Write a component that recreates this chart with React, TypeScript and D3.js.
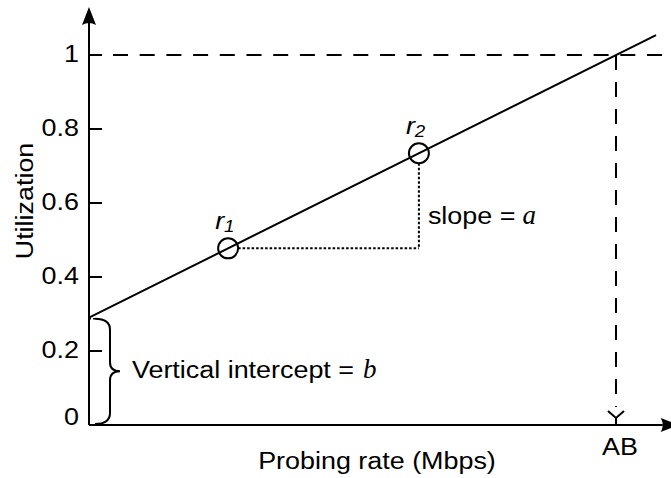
import { useEffect, useRef } from 'react';
import * as d3 from 'd3';

// chart values
const yTicks = [0, 0.2, 0.4, 0.6, 0.8, 1];
const yTickLabels = ['0', '0.2', '0.4', '0.6', '0.8', '1'];
const intercept = 0.29; // b
const slope = 0.0071; // a, utilization per rate unit
const lineRates = [0, 107.6];
const probeRates = [26.4, 62.6];
const probeNames = ['1', '2'];
const availBw = 100; // AB
const xMax = 110;
const yMax = 1.13;

const W = 671;
const H = 478;
const SANS = '"Liberation Sans", Arial, sans-serif';
const SERIF = '"Liberation Serif", "Times New Roman", serif';
const FONT = 23;
const STRETCH = 1.17; // lettering in the figure is drawn a bit wide

const util = (r: number) => intercept + slope * r;

const App = () => {
    const ref = useRef<SVGSVGElement>(null);

    useEffect(() => {
        const svg = d3.select(ref.current);
        svg.selectAll('*').remove();

        // stretched sans text at (tx, ty); returns its drawn width
        const label = (tx: number, ty: number, str: string, anchor = 'start', extra = '') => {
            const t = svg.append('text')
                .attr('transform', `translate(${tx},${ty})${extra} scale(${STRETCH},1)`)
                .attr('text-anchor', anchor)
                .attr('font-family', SANS).attr('font-size', FONT)
                .text(str);
            return (t.node() as SVGTextElement).getComputedTextLength() * STRETCH;
        };

        const x = d3.scaleLinear().domain([0, availBw]).range([89, 616]);
        const y = d3.scaleLinear().domain([0, 1]).range([425, 55]);
        const x0 = x(0);
        const y0 = y(0);

        // axes with arrow heads
        const xEnd = x(xMax);
        svg.append('line').attr('x1', x0).attr('y1', y0).attr('x2', xEnd - 6).attr('y2', y0)
            .attr('stroke', '#000').attr('stroke-width', 2);
        svg.append('path')
            .attr('d', `M${xEnd - 8},${y0 - 7} L${xEnd + 10},${y0} L${xEnd - 8},${y0 + 7} Q${xEnd - 4},${y0} ${xEnd - 8},${y0 - 7}Z`)
            .attr('fill', '#000');
        const yTop = y(yMax);
        svg.append('line').attr('x1', x0).attr('y1', y0).attr('x2', x0).attr('y2', yTop + 14)
            .attr('stroke', '#000').attr('stroke-width', 2);
        svg.append('path')
            .attr('d', `M${x0},${yTop} L${x0 + 7},${yTop + 18} Q${x0},${yTop + 14} ${x0 - 7},${yTop + 18}Z`)
            .attr('fill', '#000');

        // y ticks and labels
        yTicks.forEach((t, i) => {
            if (t > 0) {
                svg.append('line').attr('x1', x0).attr('x2', x0 + 13).attr('y1', y(t)).attr('y2', y(t))
                    .attr('stroke', '#000').attr('stroke-width', 2);
            }
            label(79, Math.min(y(t) + 7, y0), yTickLabels[i], 'end');
        });

        // dashed guides at utilization = 1 and AB
        svg.append('line').attr('x1', x0 + 24).attr('x2', x(109)).attr('y1', y(1)).attr('y2', y(1))
            .attr('stroke', '#000').attr('stroke-width', 2).attr('stroke-dasharray', '15,11.7');
        svg.append('line').attr('x1', x(availBw)).attr('x2', x(availBw)).attr('y1', y(1)).attr('y2', y0 - 18)
            .attr('stroke', '#000').attr('stroke-width', 2).attr('stroke-dasharray', '15,12');
        const ax = x(availBw);
        svg.append('path')
            .attr('d', `M${ax - 8},${y0 - 14} L${ax},${y0 - 7} L${ax + 8},${y0 - 14} M${ax},${y0 - 7} L${ax},${y0}`)
            .attr('fill', 'none').attr('stroke', '#000').attr('stroke-width', 2);

        // the regression line
        const line = d3.line<number>().x(r => x(r)).y(r => y(util(r)));
        svg.append('path').datum(lineRates).attr('d', line)
            .attr('fill', 'none').attr('stroke', '#000').attr('stroke-width', 2);

        // slope triangle (dotted)
        const [r1, r2] = probeRates;
        svg.append('line').attr('x1', x(r1) + 10).attr('x2', x(r2)).attr('y1', y(util(r1))).attr('y2', y(util(r1)))
            .attr('stroke', '#000').attr('stroke-width', 2).attr('stroke-dasharray', '2.5,2');
        svg.append('line').attr('x1', x(r2)).attr('x2', x(r2)).attr('y1', y(util(r2)) + 10).attr('y2', y(util(r1)))
            .attr('stroke', '#000').attr('stroke-width', 2).attr('stroke-dasharray', '2.5,2');

        // probe points
        probeRates.forEach((r, i) => {
            svg.append('circle').attr('cx', x(r)).attr('cy', y(util(r))).attr('r', 10)
                .attr('fill', 'none').attr('stroke', '#000').attr('stroke-width', 2);
            const t = svg.append('text')
                .attr('transform', `translate(${x(r) - 13},${y(util(r)) - 19}) scale(${STRETCH},1)`)
                .attr('font-family', SANS).attr('font-size', FONT).attr('font-style', 'italic');
            t.append('tspan').text('r');
            t.append('tspan').attr('font-size', 16).attr('dy', 3).text(probeNames[i]);
        });

        // slope label
        const slX = x(r2) + 9;
        const slLen = label(slX, 224, 'slope =');
        svg.append('text').attr('x', slX + slLen + 7).attr('y', 224)
            .attr('font-family', SERIF).attr('font-style', 'italic').attr('font-size', 27).text('a');

        // intercept brace
        const yb = y(intercept);
        const ym = (yb + y0) / 2;
        const bx = x0 + 21;
        svg.append('line').attr('x1', x0).attr('x2', x0 + 7).attr('y1', yb + 1).attr('y2', yb + 1)
            .attr('stroke', '#000').attr('stroke-width', 1.5).attr('stroke-dasharray', '2,2');
        svg.append('path')
            .attr('d', `M${x0 + 6},${yb + 1} Q${bx},${yb + 1} ${bx},${yb + 12} L${bx},${ym - 9} Q${bx},${ym} ${bx + 10},${ym}`
                + ` Q${bx},${ym} ${bx},${ym + 9} L${bx},${y0 - 12} Q${bx},${y0 - 1} ${x0 + 6},${y0 - 1}`)
            .attr('fill', 'none').attr('stroke', '#000').attr('stroke-width', 2);
        const viX = bx + 22;
        const viLen = label(viX, ym + 7, 'Vertical intercept =');
        svg.append('text').attr('x', viX + viLen + 9).attr('y', ym + 7)
            .attr('font-family', SERIF).attr('font-style', 'italic').attr('font-size', 27).text('b');

        // AB label and axis titles
        label(ax + 4, 455, 'AB', 'middle');
        label(377, 469, 'Probing rate (Mbps)', 'middle');
        label(33, 201, 'Utilization', 'middle', ' rotate(-90)');
    }, []);

    return (
        <svg ref={ref} width={W} height={H}
            style={{ position: 'absolute', left: 0, top: 0, background: '#fff' }} />
    );
};

export default App;
